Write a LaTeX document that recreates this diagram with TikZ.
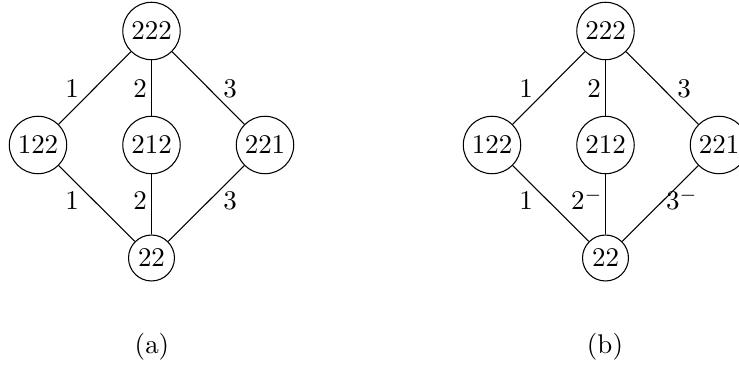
\documentclass[tikz,border=0pt]{standalone}
\begin{document}
\begin{tikzpicture}[x=0.3704pt,y=-0.3704pt,
  vtx/.style={draw,circle,inner sep=1.85pt},
  lab/.style={anchor=base,inner sep=0pt},
  captxt/.style={inner sep=0pt}]
\useasboundingbox (0,0) rectangle (739,367);
% (a)
\node[vtx] (a222) at (151.5,31) {$222$};
\node[vtx] (a122) at (38,145) {$122$};
\node[vtx] (a212) at (151.5,145) {$212$};
\node[vtx] (a221) at (265,145) {$221$};
\node[vtx] (a22) at (151.5,258) {$22$};
\draw (a222) -- (a122);
\draw (a222) -- (a212);
\draw (a222) -- (a221);
\draw (a122) -- (a22);
\draw (a212) -- (a22);
\draw (a221) -- (a22);
\node[lab] (la1) at (72,98) {$1$};
\node[lab] (la2) at (140,98) {$2$};
\node[lab] (la3) at (230,98) {$3$};
\node[lab] (la4) at (72,210) {$1$};
\node[lab] (la5) at (140,210) {$2$};
\node[lab] (la6) at (230,210) {$3$};
\node[captxt] (capa) at (152,347) {(a)};
% (b)
\node[vtx] (b222) at (605.5,31) {$222$};
\node[vtx] (b122) at (492,145) {$122$};
\node[vtx] (b212) at (605.5,145) {$212$};
\node[vtx] (b221) at (719,145) {$221$};
\node[vtx] (b22) at (605.5,258) {$22$};
\draw (b222) -- (b122);
\draw (b222) -- (b212);
\draw (b222) -- (b221);
\draw (b122) -- (b22);
\draw (b212) -- (b22);
\draw (b221) -- (b22);
\node[lab] (lb1) at (526,98) {$1$};
\node[lab] (lb2) at (594,98) {$2$};
\node[lab] (lb3) at (684,98) {$3$};
\node[lab] (lb4) at (526,210) {$1$};
\node[lab] (lb5) at (587,210) {$2^-$};
\node[lab] (lb6) at (682,210) {$3^-$};
\node[captxt] (capb) at (605,347) {(b)};
\end{tikzpicture}
\end{document}
